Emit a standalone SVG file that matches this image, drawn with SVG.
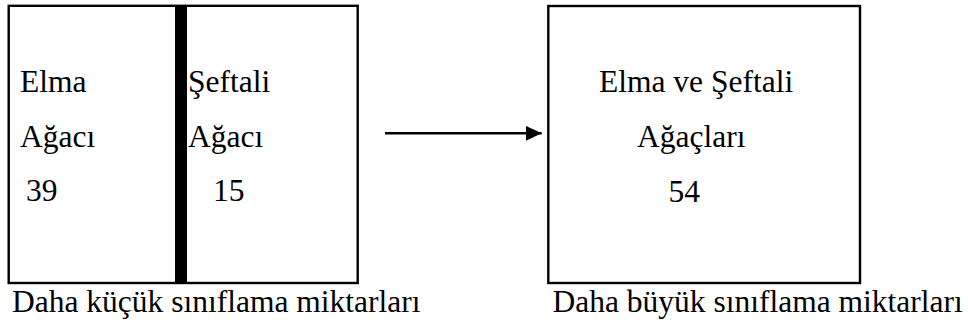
<svg xmlns="http://www.w3.org/2000/svg" width="968" height="325" viewBox="0 0 968 325">
<style>
  .t { font-family: 'Liberation Serif', 'Times New Roman', Times, serif; font-size: 31.5px; fill: #000; }
  .box { fill: #fff; stroke: #000; stroke-width: 2.4; }
  .conn { stroke: #000; stroke-width: 2.4; fill: none; }
</style>
<defs>
  <marker id="arrow" markerUnits="userSpaceOnUse" markerWidth="16" markerHeight="16" refX="16" refY="7.5" orient="auto">
    <path d="M0,0 L16,7.5 L0,15 Z" fill="#000"/>
  </marker>
</defs>
<rect width="968" height="325" fill="#fff"/>
<g id="small-groups" font-family="Liberation Serif, serif">
  <rect class="box" x="8.7" y="5.8" width="349" height="277.2"/>
  <rect x="175" y="5" width="12" height="279" fill="#000"/>
  <text class="t" x="20" y="92">Elma</text>
  <text class="t" x="20" y="147">Ağacı</text>
  <text class="t" x="26" y="201">39</text>
  <text class="t" x="188" y="92">Şeftali</text>
  <text class="t" x="188" y="147">Ağacı</text>
  <text class="t" x="213" y="201">15</text>
</g>
<g id="large-group" font-family="Liberation Serif, serif">
  <rect class="box" x="548.3" y="6" width="311.7" height="277"/>
  <text class="t" x="599" y="92.3">Elma ve Şeftali</text>
  <text class="t" x="637" y="147.3">Ağaçları</text>
  <text class="t" x="668.5" y="201.7">54</text>
</g>
<g id="connectors">
  <line class="conn" x1="385" y1="133.3" x2="541.7" y2="133.3" marker-end="url(#arrow)"/>
</g>
<g id="captions" font-family="Liberation Serif, serif">
  <text class="t" x="12" y="311.5">Daha küçük sınıflama miktarları</text>
  <text class="t" x="552.5" y="311.5">Daha büyük sınıflama miktarları</text>
</g>
</svg>
